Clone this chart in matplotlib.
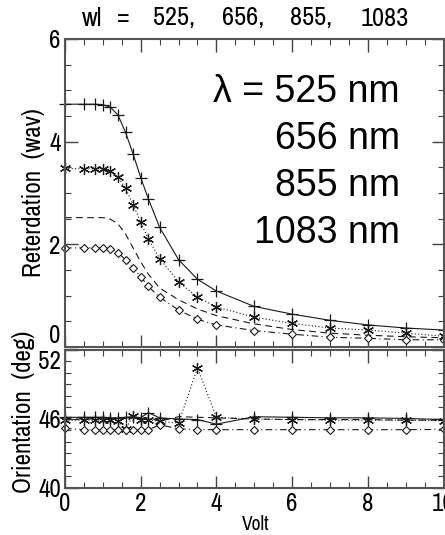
import matplotlib
matplotlib.use('Agg')
import matplotlib.pyplot as plt
from matplotlib import font_manager
from matplotlib.ticker import MultipleLocator, FixedLocator

# data
volt = [0, 0.5, 0.8, 1.0, 1.2, 1.4, 1.6, 1.8, 2.0, 2.2, 2.5, 3.0, 3.5, 4.0, 5, 6, 7, 8, 9, 10]

ret_525 = [4.73, 4.73, 4.73, 4.72, 4.67, 4.52, 4.18, 3.76, 3.30, 2.89, 2.33, 1.70, 1.32, 1.09, 0.79, 0.64, 0.52, 0.43, 0.37, 0.33]
ret_656 = [3.48, 3.47, 3.47, 3.47, 3.42, 3.31, 3.09, 2.77, 2.43, 2.11, 1.72, 1.27, 0.97, 0.78, 0.58, 0.46, 0.37, 0.33, 0.27, 0.21]
ret_855 = [2.52, 2.52, 2.52, 2.52, 2.49, 2.40, 2.20, 1.93, 1.66, 1.42, 1.15, 0.92, 0.74, 0.61, 0.45, 0.34, 0.27, 0.23, 0.20, 0.18]
ret_1083 = [1.93, 1.93, 1.93, 1.93, 1.90, 1.84, 1.70, 1.54, 1.37, 1.18, 0.97, 0.72, 0.54, 0.43, 0.32, 0.25, 0.19, 0.17, 0.14, 0.14]

ori_525 = [46.15, 46.15, 46.15, 46.15, 46.1, 46.1, 46.15, 46.2, 46.1, 46.55, 46.1, 46.0, 45.95, 45.55, 46.2, 46.15, 46.1, 46.1, 46.05, 45.95]
ori_656 = [45.9, 45.9, 45.9, 45.9, 45.9, 45.85, 45.1, 46.3, 45.95, 45.95, 45.8, 45.65, 50.45, 46.15, 46.0, 45.95, 45.9, 45.9, 45.9, 45.85]
ori_855 = [46.0, 46.0, 46.0, 46.0, 45.95, 46.0, 46.05, 46.1, 46.0, 46.1, 45.8, 46.2, 46.15, 46.1, 46.0, 45.95, 45.95, 45.95, 45.9, 45.9]
ori_1083 = [45.2, 45.05, 45.05, 45.05, 45.05, 45.05, 45.05, 45.05, 45.05, 45.05, 45.5, 45.15, 45.07, 45.07, 45.07, 45.07, 45.07, 45.07, 45.07, 45.1]

wavelengths = ['525', '656', '855', '1083']
x_ticks = [0, 2, 4, 6, 8, 10]
ret_ticks = [0, 2, 4, 6]
ori_ticks = [40, 46, 52]

# narrow regular face for the IDL-style labels, if one is installed
def is_regular(f):
    return f.style == 'normal' and f.weight in (400, 'normal', 'regular', 'book')

narrow = None
cands = [f for f in font_manager.fontManager.ttflist if is_regular(f)]
for test in (lambda f: 'Narrow' in f.name,
             lambda f: f.name == 'DejaVu Sans' and 'Condensed' in f.fname,
             lambda f: 'Condensed' in f.fname):
    hits = [f for f in cands if test(f)]
    if hits:
        narrow = hits[0].fname
        break

def lab_font(size):
    if narrow:
        return font_manager.FontProperties(fname=narrow, size=size)
    return font_manager.FontProperties(family='DejaVu Sans', size=size)

ink = '#1a1a1a'
styles = [
    dict(ls='-', marker='+', ms=8, mew=0.9),
    dict(ls=(0, (1, 2)), marker=(6, 2, 0), ms=8, mew=0.9),
    dict(ls=(0, (6, 4)), marker=None),
    dict(ls=(0, (6, 3, 1, 3)), marker='D', ms=4.5, mew=0.8, mfc='white'),
]

fig = plt.figure(figsize=(4.45, 5.35), dpi=100)
W, H = 445, 535
ax1 = fig.add_axes([65 / W, 1 - 347 / H, 378.5 / W, 308 / H])
ax2 = fig.add_axes([65 / W, 1 - 488 / H, 378.5 / W, 138 / H])

for ax, series in ((ax1, [ret_525, ret_656, ret_855, ret_1083]),
                   (ax2, [ori_525, ori_656, ori_855, ori_1083])):
    for ys, st in zip(series, styles):
        ax.plot(volt, ys, color=ink, lw=0.8, clip_on=False, **st)
    ax.set_xlim(0, 10)
    ax.xaxis.set_major_locator(FixedLocator(x_ticks))
    ax.xaxis.set_minor_locator(MultipleLocator(0.5))
    ax.tick_params(which='both', direction='in', top=True, right=True,
                   color='#444', pad=3)
    ax.tick_params(which='major', length=9, width=1)
    ax.tick_params(which='minor', length=4.5, width=0.8)
    for s in ax.spines.values():
        s.set_color('#555')
        s.set_linewidth(1.5)

ax1.set_ylim(0, 6)
ax1.set_yticks(ret_ticks)
ax1.yaxis.set_minor_locator(MultipleLocator(0.5))
ax1.set_yticklabels([str(v) for v in ret_ticks], fontproperties=lab_font(18))
ax1.set_xticklabels([])
ax1.get_yticklabels()[0].set_verticalalignment('bottom')

ax2.set_ylim(40, 52)
ax2.set_yticks(ori_ticks)
ax2.yaxis.set_minor_locator(MultipleLocator(1))
ax2.set_yticklabels([str(v) for v in ori_ticks], fontproperties=lab_font(18))
ax2.set_xticks(x_ticks)
ax2.set_xticklabels([str(v) for v in x_ticks], fontproperties=lab_font(18))
ax2.get_yticklabels()[-1].set_verticalalignment('top')

# title, laid out token by token like the IDL string
title_tokens = ['wl', '='] + [w + ',' for w in wavelengths[:-1]] + [wavelengths[-1]]
title_mid = [92, 123, 174, 243, 311, 385]
for tok, xc in zip(title_tokens, title_mid):
    fig.text(xc / W, 1 - 18 / H, tok, ha='center', va='center',
             fontproperties=lab_font(19))

fig.text(34 / W, 1 - 193 / H, 'Reterdation  (wav)', rotation=90,
         ha='center', va='center', fontproperties=lab_font(18))
fig.text(24 / W, 1 - 412 / H, 'Orientation  (deg)', rotation=90,
         ha='center', va='center', fontproperties=lab_font(18))
fig.text(256 / W, 1 - 524 / H, 'Volt', ha='center', va='center',
         fontproperties=lab_font(14))

big = ['λ = ' + wavelengths[0] + ' nm'] + [w + ' nm' for w in wavelengths[1:]]
for i, t in enumerate(big):
    fig.text(400 / W, 1 - (92 + 47 * i) / H, t, ha='right', va='center',
             fontsize=27, family='Liberation Sans')

fig.savefig('out.png', dpi=100)
